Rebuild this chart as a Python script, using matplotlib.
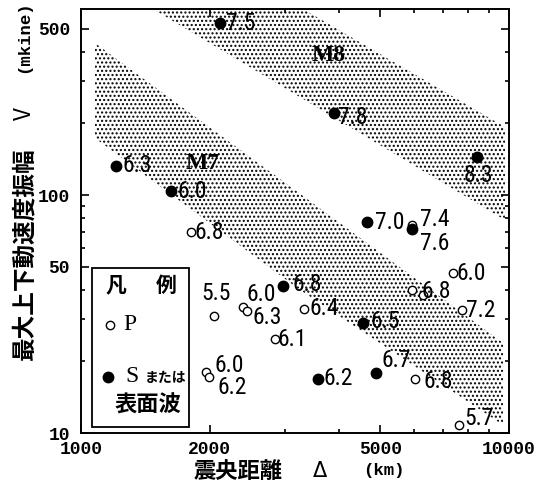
import matplotlib
matplotlib.use('Agg')
import matplotlib.pyplot as plt
from matplotlib import font_manager as fm
from matplotlib.patches import Polygon, Rectangle
from matplotlib.lines import Line2D
from matplotlib.ticker import FixedLocator, FixedFormatter, NullFormatter

# ---------------- data ----------------
# P waves (open circles)
p_dist = [1807, 2046, 2389, 2444, 2839, 1958, 1991, 3319, 5934, 6296, 7396, 7764, 6032, 7640, 5934]
p_vel = [69.9, 31.0, 33.8, 32.6, 24.8, 18.0, 17.2, 33.2, 39.9, 38.0, 47.0, 32.9, 16.9, 10.8, 74.8]
p_mag = ['6.8', '5.5', '6.0', '6.3', '6.1', '6.0', '6.2', '6.4', '6.8', '', '6.0', '7.2', '6.8', '5.7', '7.4']

# S or surface waves (filled circles)
s_dist = [2113, 1207, 1622, 3899, 8414, 4656, 5934, 2965, 4561, 3580, 4887]
s_vel = [528, 132, 104, 221, 144, 77.0, 71.9, 41.5, 29.0, 16.9, 17.9]
s_mag = ['7.5', '6.3', '6.0', '7.8', '8.3', '7.0', '7.6', '6.8', '6.5', '6.2', '6.7']

# magnitude bands
m8_dist = [1473, 3302, 9788, 9788]
m8_vel = [605, 605, 193, 78.5]
m7_dist = [1078, 9684, 9684, 3249, 1078]
m7_vel = [435, 23.9, 10.8, 39.9, 173.6]

x_ticks = [1000, 2000, 5000, 10000]
x_ticklabels = ['1000', '2000', '5000', '10000']
y_ticks = [10, 50, 100, 500]
y_ticklabels = ['10', '50', '100', '500']

# label offsets (pixels: dx to text left/centre, dy to text centre)
p_off = [(4, 0), (2, 23), (4, 13), (5, -7), (3, 0), (9, 7), (8, -11), (6, 0), (10, -2),
         (0, 0), (4, 0), (4, -1), (8, -3), (5, 7), (8, 6)]
p_ha = ['left', 'center'] + ['left'] * 13
s_off = [(6, 0), (7, 1), (7, -1), (4, -4), (1, -18), (8, 0), (8, -14), (9, 1), (7, 1), (5, 0), (6, 12)]
s_ha = ['left'] * 4 + ['center'] + ['left'] * 6

# ---------------- fonts ----------------
names = {f.name for f in fm.fontManager.ttflist}
num_font = 'Roboto Condensed' if 'Roboto Condensed' in names else 'DejaVu Sans'
num_size = 17
num_weight = 'normal'
mono = 'Liberation Mono'
jp = ['Noto Sans CJK JP', 'DejaVu Sans']

W, H = 555, 483
fig = plt.figure(figsize=(W / 100, H / 100), dpi=100)
def fx(px): return px / W
def fy(py): return 1 - py / H

ax = fig.add_axes([fx(81), fy(433), 428 / W, 424 / H])
ax.set_xscale('log')
ax.set_yscale('log')
ax.set_xlim(1000, 10000)
ax.set_ylim(10, 605)

plt.rcParams['hatch.linewidth'] = 1.0
for d, v in ((m8_dist, m8_vel), (m7_dist, m7_vel)):
    poly = Polygon(list(zip(d, v)), closed=True, facecolor='none', edgecolor='black',
                   linewidth=0, hatch='....', zorder=1)
    ax.add_patch(poly)

ax.plot(p_dist, p_vel, 'o', ms=6, mfc='white', mec='black', mew=1.0, ls='none', zorder=3)
ax.plot(s_dist, s_vel, 'o', ms=7.5, mfc='black', mec='black', ls='none', zorder=4)

def px2pt(v): return v * 0.72
for d, v, m, (dx, dy), ha in zip(p_dist, p_vel, p_mag, p_off, p_ha):
    if m:
        ax.annotate(m, (d, v), xytext=(px2pt(dx), px2pt(dy)), textcoords='offset points',
                    ha=ha, va='center', fontsize=num_size, family=num_font, weight=num_weight, zorder=5)
for d, v, m, (dx, dy), ha in zip(s_dist, s_vel, s_mag, s_off, s_ha):
    ax.annotate(m, (d, v), xytext=(px2pt(dx), px2pt(dy)), textcoords='offset points',
                ha=ha, va='center', fontsize=num_size, family=num_font, weight=num_weight, zorder=5)

# band labels
ax.text(1000 * 10 ** ((329 - 81) / 428), 10 ** (1 + (433 - 55) / 238), 'M8', ha='center', va='center',
        fontsize=17, weight='bold', family='Liberation Serif', zorder=5)
ax.text(1000 * 10 ** ((203 - 81) / 428), 10 ** (1 + (433 - 163) / 238), 'M7', ha='center', va='center',
        fontsize=17, weight='bold', family='Liberation Serif', zorder=5)

# ticks
ax.xaxis.set_major_locator(FixedLocator(x_ticks))
ax.xaxis.set_major_formatter(FixedFormatter(x_ticklabels))
ax.xaxis.set_minor_locator(FixedLocator([3000, 4000, 6000, 7000, 8000, 9000]))
ax.xaxis.set_minor_formatter(NullFormatter())
ax.yaxis.set_major_locator(FixedLocator(y_ticks))
ax.yaxis.set_major_formatter(FixedFormatter(y_ticklabels))
ax.yaxis.set_minor_locator(FixedLocator([20, 30, 40, 60, 70, 80, 90, 200, 300, 400]))
ax.yaxis.set_minor_formatter(NullFormatter())
ax.tick_params(which='both', direction='in', top=True, right=True, width=1.2, color='black')
ax.tick_params(which='major', length=5.5)
ax.tick_params(axis='x', which='major', pad=6)
ax.tick_params(axis='y', which='major', pad=8)
ax.tick_params(which='minor', length=3)
for lab in ax.get_xticklabels() + ax.get_yticklabels():
    lab.set_family(mono)
    lab.set_fontsize(13)
    lab.set_weight('bold')
for s in ax.spines.values():
    s.set_linewidth(1.4)

# axis labels
fig.text(fx(24), fy(254), '最大上下動速度振幅', rotation=90, ha='center', va='center',
         fontsize=17, family=jp, weight='bold')
fig.text(fx(24), fy(114), 'V', rotation=90, ha='center', va='center', fontsize=16, family=jp)
fig.text(fx(24), fy(37), '(mkine)', rotation=90, ha='center', va='center', fontsize=12.5,
         family=mono, weight='bold')
fig.text(fx(238), fy(471), '震央距離', ha='center', va='center', fontsize=16, family=jp, weight='bold')
fig.text(fx(320), fy(471), 'Δ', ha='center', va='center', fontsize=15, family='DejaVu Sans')
fig.text(fx(384), fy(470), '(km)', ha='center', va='center', fontsize=12.5, family=mono, weight='bold')

# legend box
fig.add_artist(Rectangle((fx(92), fy(427)), 97 / W, 159 / H, transform=fig.transFigure,
                         facecolor='white', edgecolor='black', linewidth=1.3, zorder=6))
fig.text(fx(116), fy(285), '凡', ha='center', va='center', fontsize=15, family=jp, weight='bold', zorder=7)
fig.text(fx(166), fy(285), '例', ha='center', va='center', fontsize=15, family=jp, weight='bold', zorder=7)
fig.add_artist(Line2D([fx(110)], [fy(325)], marker='o', ms=6, mfc='white', mec='black', mew=1.0,
                      transform=fig.transFigure, zorder=7))
fig.text(fx(123), fy(325), 'P', ha='left', va='center', fontsize=17, family='Liberation Serif', zorder=7)
fig.add_artist(Line2D([fx(108)], [fy(377)], marker='o', ms=7.5, mfc='black', mec='black',
                      transform=fig.transFigure, zorder=7))
fig.text(fx(125), fy(377), 'S', ha='left', va='center', fontsize=17, family='Liberation Serif', zorder=7)
fig.text(fx(145), fy(378), 'または', ha='left', va='center', fontsize=10, family=jp, weight='bold', zorder=7)
fig.text(fx(148), fy(405), '表面波', ha='center', va='center', fontsize=16, family=jp, weight='bold', zorder=7)

fig.savefig('out.png', dpi=100)
